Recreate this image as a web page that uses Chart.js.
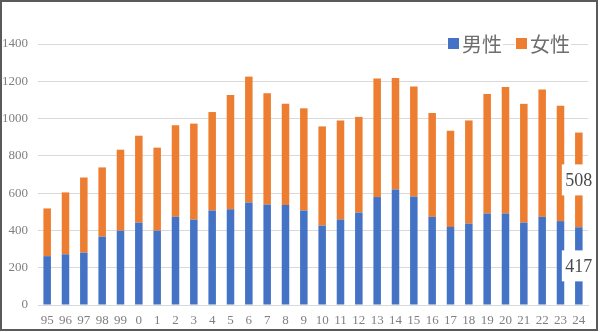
<!DOCTYPE html>
<html>
<head>
<meta charset="utf-8">
<script src="https://cdn.jsdelivr.net/npm/chart.js@4/dist/chart.umd.min.js"></script>
<style>
    html, body { margin: 0; padding: 0; background: #fff; }
    #wrap {
        position: absolute; left: 0; top: 0;
        width: 598px; height: 331px;
        box-sizing: border-box;
        border: 2px solid #5a5a5a;
        background: #fff;
    }
    #chart { display: block; }
</style>
</head>
<body>
<div id="wrap"><canvas id="chart" width="594" height="327"></canvas></div>
<script>
const years = ['95', '96', '97', '98', '99', '0', '1', '2', '3', '4', '5', '6', '7', '8', '9',
    '10', '11', '12', '13', '14', '15', '16', '17', '18', '19', '20', '21', '22', '23', '24'];
const male = [262, 272, 281, 367, 399, 442, 399, 473, 458, 507, 514, 550, 539, 537, 507,
    426, 458, 496, 579, 620, 582, 473, 419, 437, 491, 491, 442, 473, 450, 417];
const female = [256, 332, 403, 371, 434, 466, 445, 491, 515, 528, 613, 675, 597, 542, 548,
    532, 531, 513, 636, 598, 590, 557, 516, 553, 641, 679, 637, 683, 619, 508];
const yTicks = [0, 200, 400, 600, 800, 1000, 1200, 1400];

const seriesNames = ['男性', '女性'];
const seriesColors = ['#4472C4', '#ED7D31'];

const serif = '"Liberation Serif", "Times New Roman", serif';
const cjk = '"Noto Sans CJK JP", "Noto Sans", sans-serif';

// value labels on the last bar only (white box behind)
const lastBarLabels = {
    id: 'lastBarLabels',
    afterDatasetsDraw(chart) {
        const ctx = chart.ctx;
        ctx.save();
        ctx.font = '18px ' + serif;
        ctx.textAlign = 'center';
        ctx.textBaseline = 'middle';
        chart.data.datasets.forEach((ds, i) => {
            const meta = chart.getDatasetMeta(i);
            const idx = ds.data.length - 1;
            const bar = meta.data[idx];
            const cy = (bar.y + bar.base) / 2;
            const w = 32, h = 31;
            ctx.fillStyle = '#ffffff';
            ctx.fillRect(bar.x - w / 2 - 1, cy - h / 2, w, h);
            ctx.fillStyle = '#4a4a4a';
            ctx.fillText(String(ds.data[idx]), bar.x, cy + 1);
        });
        ctx.restore();
    }
};

// legend sitting over the top gridline, top right
const overlayLegend = {
    id: 'overlayLegend',
    afterDraw(chart) {
        const ctx = chart.ctx;
        ctx.save();
        ctx.font = '20px ' + cjk;
        ctx.textBaseline = 'middle';
        let x = 446;
        const cy = 41;
        seriesNames.forEach((name, i) => {
            const tw = ctx.measureText(name).width;
            ctx.fillStyle = '#ffffff';
            ctx.fillRect(x - 1, cy - 11, 11 + 3 + tw + 2, 22);
            ctx.fillStyle = seriesColors[i];
            ctx.fillRect(x, cy - 5, 11, 11);
            ctx.fillStyle = '#6e6e6e';
            ctx.fillText(name, x + 14, cy + 1);
            x += 11 + 3 + tw + 14;
        });
        ctx.restore();
    }
};

new Chart(document.getElementById('chart').getContext('2d'), {
    type: 'bar',
    data: {
        labels: years,
        datasets: [
            { label: seriesNames[0], data: male, backgroundColor: seriesColors[0] },
            { label: seriesNames[1], data: female, backgroundColor: seriesColors[1] }
        ]
    },
    options: {
        responsive: false,
        animation: false,
        layout: { padding: { left: 0, right: 8, top: 42, bottom: 2 } },
        datasets: {
            bar: { categoryPercentage: 1, barPercentage: 0.41 }
        },
        plugins: {
            legend: { display: false },
            tooltip: { enabled: false }
        },
        scales: {
            x: {
                stacked: true,
                grid: { display: false, drawTicks: false },
                border: { display: true, color: '#d9d9d9' },
                ticks: { color: '#808080', font: { family: serif, size: 13 }, padding: 8, maxRotation: 0, autoSkip: false },
                afterFit(scale) { scale.height = 22; }
            },
            y: {
                stacked: true,
                min: 0,
                max: 1400,
                afterBuildTicks(scale) { scale.ticks = yTicks.map(v => ({ value: v })); },
                grid: { color: '#d9d9d9', lineWidth: 1, drawTicks: false },
                border: { display: false },
                ticks: { color: '#808080', font: { family: serif, size: 13 }, padding: 10, callback: v => String(v) },
                afterFit(scale) { scale.width = 36; }
            }
        }
    },
    plugins: [lastBarLabels, overlayLegend]
});
</script>
</body>
</html>
